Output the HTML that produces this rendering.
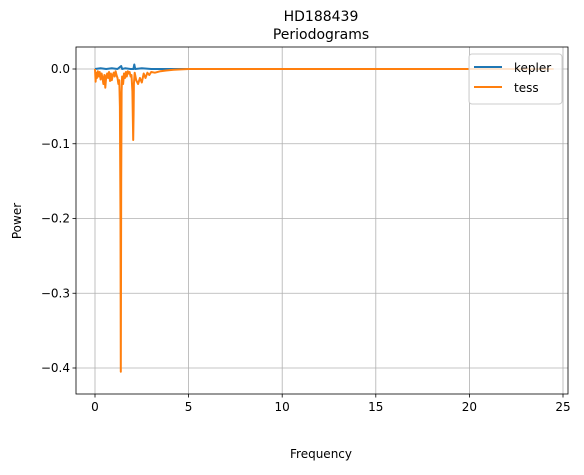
<!DOCTYPE html>
<html><head><meta charset="utf-8"><style>
body{margin:0;background:#fff;font-family:"Liberation Sans","DejaVu Sans",sans-serif}
svg text{font-family:"DejaVu Sans","Liberation Sans",sans-serif}
</style></head><body>
<svg id="c" width="584" height="470">
<text x="321" y="21" font-size="14" text-anchor="middle">HD188439</text>
<text x="321" y="39" font-size="14" text-anchor="middle">Periodograms</text>
<g id="grid"></g><g id="lines"></g><g id="axes"></g>
<text x="321" y="458" font-size="12" text-anchor="middle">Frequency</text>
<text x="21" y="221" font-size="12" text-anchor="middle" transform="rotate(-90 21 221)">Power</text>
<g>
<rect x="469" y="54" width="93" height="50" rx="3" fill="#fff" fill-opacity="0.8" stroke="#ccc"/>
<line x1="474" y1="67" x2="502" y2="67" stroke="#1f77b4" stroke-width="2"/>
<text x="514" y="72" font-size="12">kepler</text>
<line x1="474" y1="87" x2="502" y2="87" stroke="#ff7f0e" stroke-width="2"/>
<text x="514" y="92" font-size="12">tess</text>
</g>
</svg>
<script>
const xTicks=[0,5,10,15,20,25];
const yTicks=[0,-0.1,-0.2,-0.3,-0.4];
const yTickLabels=["0.0","−0.1","−0.2","−0.3","−0.4"];
const keplerF=[0,0.3,0.6,0.9,1.2,1.4,1.45,1.6,1.9,2.05,2.1,2.15,2.5,3,4,10,24.5];
const keplerP=[0,0.001,0,0.001,0,0.004,0,0.001,0,0,0.006,0,0.001,0,0,0,0];
const tessF=[0,0.03,0.06,0.1,0.15,0.2,0.25,0.3,0.35,0.4,0.45,0.5,0.55,0.6,0.65,0.7,0.75,0.8,0.85,0.9,0.95,1.0,1.05,1.1,1.15,1.2,1.25,1.3,1.33,1.36,1.38,1.4,1.42,1.45,1.5,1.55,1.6,1.65,1.7,1.75,1.8,1.85,1.9,1.95,2.0,2.04,2.06,2.08,2.12,2.2,2.3,2.4,2.5,2.6,2.7,2.8,2.9,3.0,3.2,3.5,3.8,4.2,5,10,24.5];
const tessP=[0,-0.017,-0.005,-0.012,-0.003,-0.01,-0.004,-0.014,-0.006,-0.012,-0.02,-0.008,-0.025,-0.01,-0.006,-0.012,-0.004,-0.016,-0.006,-0.015,-0.008,-0.005,-0.01,-0.003,-0.008,-0.012,-0.02,-0.015,-0.05,-0.2,-0.405,-0.15,-0.03,-0.01,-0.02,-0.006,-0.012,-0.004,-0.01,-0.003,-0.006,-0.004,-0.01,-0.008,-0.03,-0.095,-0.06,-0.02,-0.005,-0.015,-0.02,-0.012,-0.018,-0.006,-0.012,-0.005,-0.008,-0.004,-0.005,-0.003,-0.002,-0.001,0,0,0];
const L=76,R=568,T=47,B=394;
const sx=f=>95+f*(563-95)/25;
const sy=p=>69-p*(368-69)/0.4;
const NS="http://www.w3.org/2000/svg";
function mk(tag,attrs,parent){const e=document.createElementNS(NS,tag);for(const k in attrs)e.setAttribute(k,attrs[k]);parent.appendChild(e);return e;}
const g=document.getElementById('grid'),ln=document.getElementById('lines'),ax=document.getElementById('axes');
xTicks.forEach(t=>{const x=sx(t);
 const gl=mk('line',{x1:x,x2:x,y1:T,y2:B,stroke:'#b0b0b0','stroke-width':0.8},g);
 
 mk('line',{x1:x,x2:x,y1:B,y2:B+3.5,stroke:'#000','stroke-width':0.8},ax);
 const tx=mk('text',{x:x,y:B+17,'font-size':12,'text-anchor':'middle'},ax);tx.textContent=t;
 });
yTicks.forEach((t,i)=>{const y=sy(t);
 const gl=mk('line',{x1:L,x2:R,y1:y,y2:y,stroke:'#b0b0b0','stroke-width':0.8},g);
 
 mk('line',{x1:L-3.5,x2:L,y1:y,y2:y,stroke:'#000','stroke-width':0.8},ax);
 const tx=mk('text',{x:L-6,y:y+4,'font-size':12,'text-anchor':'end'},ax);tx.textContent=yTickLabels[i];
 });
const fr=mk('rect',{x:L,y:T,width:R-L,height:B-T,fill:'none',stroke:'#000','stroke-width':0.8},ax);

function path(F,P,c,name){const d=F.map((f,i)=>(i?'L':'M')+sx(f).toFixed(1)+' '+sy(P[i]).toFixed(1)).join(' ');
 const p=mk('path',{d:d,fill:'none',stroke:c,'stroke-width':2,'stroke-linejoin':'round'},ln);
 }
path(keplerF,keplerP,'#1f77b4','kepler-line');
path(tessF,tessP,'#ff7f0e','tess-line');
</script>
</body></html>
